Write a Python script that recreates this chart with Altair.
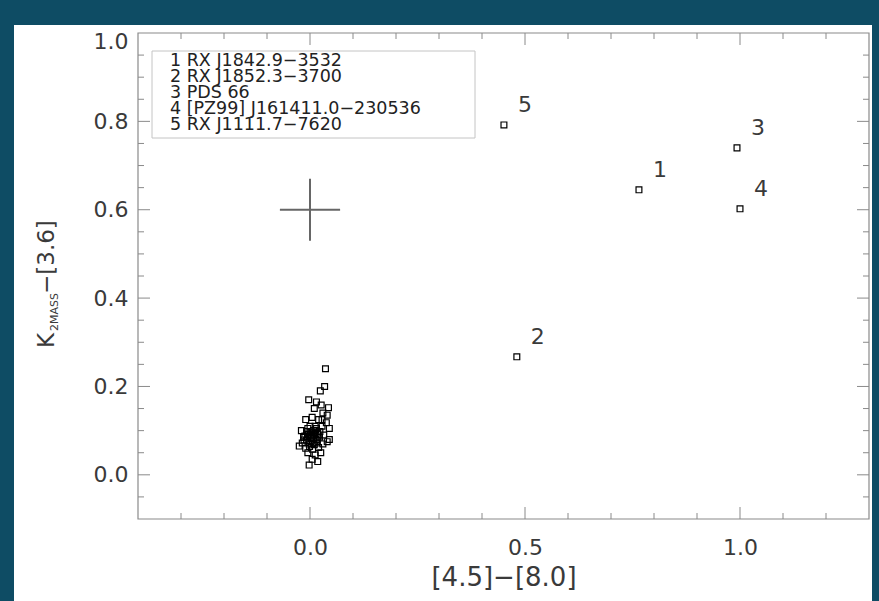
import altair as alt
import pandas as pd

# ---------------- data ----------------
cluster_x = [0.036, 0.024, 0.034, -0.003, 0.015, 0.026, 0.043, 0.040, 0.030, 0.010,
             0.005, -0.010, 0.020, 0.038, 0.045, 0.028, 0.012, -0.005, -0.020, 0.000,
             0.008, 0.018, -0.012, 0.004, 0.014, -0.008, 0.022, 0.032, -0.018, -0.002,
             0.010, 0.040, -0.025, -0.010, 0.006, 0.020, -0.005, 0.012, 0.025, -0.015,
             0.000, 0.008, 0.002, -0.004, 0.016, 0.005, 0.018, -0.002, 0.030, 0.045,
             0.015, 0.028, -0.008, 0.003, 0.011, 0.019, -0.014, 0.007, 0.013, -0.001,
             0.009, 0.017, -0.006, 0.004, 0.023, 0.001]
cluster_y = [0.240, 0.190, 0.200, 0.170, 0.165, 0.158, 0.152, 0.135, 0.140, 0.150,
             0.130, 0.125, 0.125, 0.118, 0.105, 0.110, 0.110, 0.105, 0.100, 0.095,
             0.090, 0.095, 0.088, 0.085, 0.080, 0.078, 0.085, 0.090, 0.072, 0.070,
             0.068, 0.075, 0.065, 0.060, 0.058, 0.062, 0.050, 0.045, 0.050, 0.085,
             0.110, 0.100, 0.075, 0.092, 0.072, 0.035, 0.030, 0.022, 0.070, 0.080,
             0.105, 0.125, 0.098, 0.082, 0.094, 0.088, 0.079, 0.072, 0.101, 0.064,
             0.083, 0.078, 0.087, 0.097, 0.098, 0.090]

star_id = ["1", "2", "3", "4", "5"]
star_x = [0.765, 0.481, 0.993, 1.000, 0.451]
star_y = [0.645, 0.267, 0.740, 0.602, 0.792]

legend_lines = ["1 RX J1842.9\u22123532", "2 RX J1852.3\u22123700", "3 PDS 66",
                "4 [PZ99] J161411.0\u2212230536", "5 RX J1111.7\u22127620"]

err_x = [0.0]
err_y = [0.6]
err_dx = [0.07]
err_dy = [0.07]

x_major_ticks = [0.0, 0.5, 1.0]
x_minor_ticks = [-0.3, -0.2, -0.1, 0.1, 0.2, 0.3, 0.4, 0.6, 0.7, 0.8, 0.9, 1.1, 1.2]
y_major_ticks = [0.0, 0.2, 0.4, 0.6, 0.8]
y_minor_ticks = [-0.05, 0.05, 0.1, 0.15, 0.25, 0.3, 0.35, 0.45, 0.5, 0.55,
                 0.65, 0.7, 0.75, 0.85, 0.9, 0.95]
x_label_values = [0.0, 0.5, 1.0]
y_label_values = [0.0, 0.2, 0.4, 0.6, 0.8, 1.0]

# ---------------- style ----------------
W, H = 731, 486
BG = "#0e4c64"
TICK = "#8a8a8a"
FONT = "DejaVu Sans"
TXT = "#3a3a3a"

xs = alt.Scale(domain=[-0.4, 1.3], nice=False, zero=False)
ys = alt.Scale(domain=[-0.1, 1.0], nice=False, zero=False)

AX = alt.Axis(values=x_label_values, format=".1f", ticks=False, domain=False, grid=False,
              labelFont=FONT, labelFontSize=22, labelColor=TXT, labelPadding=18,
              title="[4.5]\u2212[8.0]", titleFont=FONT, titleFontSize=26,
              titleFontWeight="normal", titleColor=TXT, titlePadding=6, zindex=2)
AY = alt.Axis(values=y_label_values, format=".1f", ticks=False, domain=False, grid=False,
              labelFont=FONT, labelFontSize=22, labelColor=TXT, labelPadding=10, title="",
              labelOffset={"condition": {"test": "datum.value >= 0.99", "value": 8}, "value": 0},
              zindex=2)

def X(f):
    return alt.X(f, scale=xs, axis=AX)

def Y(f):
    return alt.Y(f, scale=ys, axis=AY)

one = pd.DataFrame({"k": [0]})

# white panel behind everything
panel = alt.Chart(one).mark_rect(fill="white").encode(
    x=alt.value(-124), x2=alt.value(734), y=alt.value(-8), y2=alt.value(590))

# plot frame
frame = alt.Chart(one).mark_rect(fill="white", fillOpacity=0, stroke="#8a8a8a", strokeWidth=1.2).encode(
    x=alt.value(0), x2=alt.value(W), y=alt.value(0), y2=alt.value(H))

def xticks(vals, L):
    df = pd.DataFrame({"v": vals})
    base = alt.Chart(df).mark_rule(color=TICK, strokeWidth=1)
    b = base.encode(x=X("v:Q"), y=alt.value(H), y2=alt.value(H - L))
    t = base.encode(x=X("v:Q"), y=alt.value(0), y2=alt.value(L))
    return [b, t]

def yticks(vals, L):
    df = pd.DataFrame({"v": vals})
    base = alt.Chart(df).mark_rule(color=TICK, strokeWidth=1)
    l = base.encode(y=Y("v:Q"), x=alt.value(0), x2=alt.value(L))
    r = base.encode(y=Y("v:Q"), x=alt.value(W), x2=alt.value(W - L))
    return [l, r]

tick_layers = xticks(x_major_ticks, 12) + xticks(x_minor_ticks, 6) + \
    yticks(y_major_ticks, 12) + yticks(y_minor_ticks, 6)

# legend box
legend_box = alt.Chart(one).mark_rect(fill="white", stroke="#c4c4c4", strokeWidth=1).encode(
    x=alt.value(14), x2=alt.value(337), y=alt.value(18), y2=alt.value(105))
legend_text = []
for i, line in enumerate(legend_lines):
    legend_text.append(
        alt.Chart(pd.DataFrame({"t": [line]})).mark_text(
            align="left", baseline="middle", font=FONT, fontSize=17.5, color="#222222"
        ).encode(text="t:N", x=alt.value(32), y=alt.value(28 + 16 * i)))

# error cross
err_df = pd.DataFrame({"x": err_x, "y": err_y, "dx": err_dx, "dy": err_dy})
err_base = alt.Chart(err_df).transform_calculate(
    x0="datum.x - datum.dx", x1="datum.x + datum.dx",
    y0="datum.y - datum.dy", y1="datum.y + datum.dy")
err_h = err_base.mark_rule(color="#666666", strokeWidth=2).encode(
    x=X("x0:Q"), x2="x1:Q", y=Y("y:Q"))
err_v = err_base.mark_rule(color="#666666", strokeWidth=2).encode(
    y=Y("y0:Q"), y2="y1:Q", x=X("x:Q"))

# scatter
cluster_df = pd.DataFrame({"x": cluster_x, "y": cluster_y})
star_df = pd.DataFrame({"x": star_x, "y": star_y, "id": star_id})

pt_style = dict(shape="square", filled=False, size=34, color="black", strokeWidth=1.2, opacity=1)

cluster = alt.Chart(cluster_df).mark_point(**pt_style).encode(x=X("x:Q"), y=Y("y:Q"))
stars = alt.Chart(star_df).mark_point(**pt_style).encode(x=X("x:Q"), y=Y("y:Q"))
star_labels = alt.Chart(star_df).mark_text(
    font=FONT, fontSize=22, color=TXT, dx=21, dy=-20, align="center", baseline="middle"
).encode(x=X("x:Q"), y=Y("y:Q"), text="id:N")

# y-axis title with subscript
def ytitle_piece(txt, size, xpos, ypos):
    return alt.Chart(pd.DataFrame({"t": [txt]})).mark_text(
        angle=270, align="left", baseline="alphabetic", font=FONT, fontSize=size, color=TXT
    ).encode(text="t:N", x=alt.value(xpos), y=alt.value(ypos))

ytitle = [ytitle_piece("K", 23, -84, 315),
          ytitle_piece("2MASS", 11, -80, 298),
          ytitle_piece("\u2212[3.6]", 23, -84, 261)]

chart = alt.layer(
    panel, *tick_layers, legend_box, *legend_text, err_h, err_v,
    cluster, stars, star_labels, *ytitle, frame
).properties(
    width=W, height=H, background=BG,
    padding={"left": 138, "top": 33, "right": 10, "bottom": 82},
    autosize=alt.AutoSizeParams(type="none")
).configure_view(stroke=None)

chart.save("out.html", embed_options={"renderer": "svg", "actions": False})
